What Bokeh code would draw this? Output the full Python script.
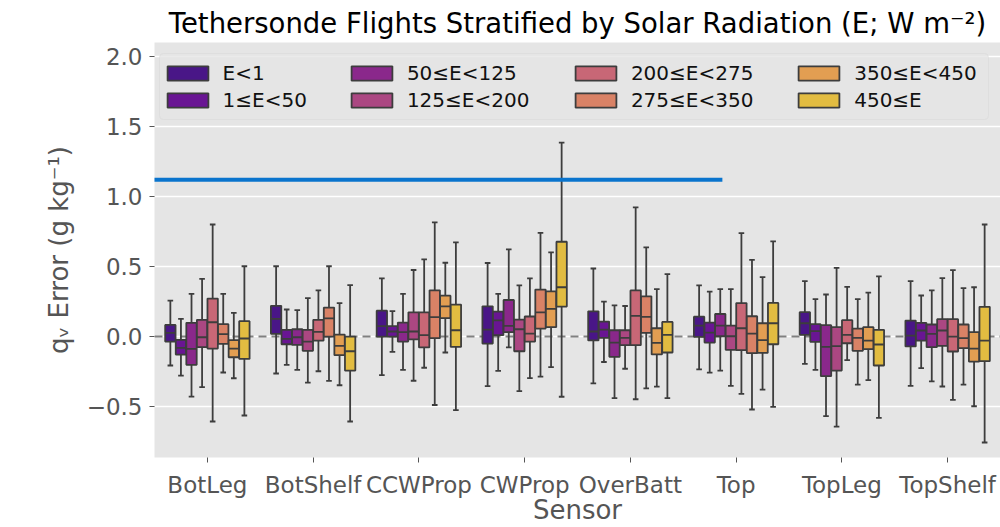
from bokeh.plotting import figure
from bokeh.models import (ColumnDataSource, FactorRange, Legend, LegendItem, BoxAnnotation,
                          Span, FixedTicker, CustomJSTickFormatter)
from bokeh.transform import dodge
from bokeh.embed import file_html
from bokeh.resources import INLINE

# ---------------- data ----------------
SENSORS = ["BotLeg", "BotShelf", "CCWProp", "CWProp", "OverBatt", "Top", "TopLeg", "TopShelf"]
BINS = ["E<1", "1≤E<50", "50≤E<125", "125≤E<200", "200≤E<275", "275≤E<350", "350≤E<450", "450≤E"]
COLORS = ["#491687", "#691593", "#8a288b", "#ab4782", "#c86776", "#d98266", "#e29e52", "#e2bc41"]

# one row per sensor, one column per radiation bin
WHISK_HI = [
    [0.257, 0.126, 0.305, 0.412, 0.800, 0.305, 0.169, 0.502],
    [0.502, 0.193, 0.188, 0.274, 0.329, 0.502, 0.238, 0.367],
    [0.416, 0.181, 0.304, 0.475, 0.551, 0.815, 0.527, 0.672],
    [0.525, 0.304, 0.622, 0.366, 0.416, 0.741, 0.601, 1.385],
    [0.486, 0.249, 0.223, 0.218, 0.922, 0.637, 0.339, 0.445],
    [0.365, 0.320, 0.339, 0.339, 0.739, 0.547, 0.424, 0.679],
    [0.395, 0.267, 0.300, 0.490, 0.355, 0.267, 0.314, 0.429],
    [0.395, 0.293, 0.329, 0.417, 0.474, 0.345, 0.352, 0.800],
]
Q3 = [
    [0.083, -0.024, 0.098, 0.119, 0.271, 0.088, -0.026, 0.110],
    [0.219, 0.048, 0.052, 0.048, 0.119, 0.207, 0.014, 0.000],
    [0.185, 0.074, 0.100, 0.173, 0.173, 0.330, 0.292, 0.228],
    [0.216, 0.178, 0.261, 0.121, 0.143, 0.335, 0.323, 0.677],
    [0.180, 0.107, 0.045, 0.045, 0.329, 0.287, 0.059, 0.104],
    [0.142, 0.100, 0.161, 0.078, 0.239, 0.145, 0.095, 0.240],
    [0.174, 0.088, 0.081, 0.067, 0.117, 0.057, 0.067, 0.048],
    [0.114, 0.098, 0.086, 0.124, 0.124, 0.086, 0.031, 0.212],
]
MEDIAN = [
    [0.026, -0.081, -0.088, -0.005, 0.102, 0.017, -0.086, -0.014],
    [0.126, -0.017, -0.005, -0.036, 0.033, 0.129, -0.067, -0.105],
    [0.074, 0.036, 0.031, 0.036, 0.010, 0.138, 0.216, 0.045],
    [0.050, 0.116, 0.076, 0.052, 0.021, 0.173, 0.197, 0.352],
    [0.036, 0.050, -0.043, -0.009, 0.147, 0.140, -0.045, 0.012],
    [0.078, 0.028, 0.078, 0.002, 0.059, 0.021, -0.026, 0.095],
    [0.095, 0.038, -0.074, -0.069, 0.012, -0.010, -0.029, -0.057],
    [0.007, 0.043, 0.019, 0.043, 0.000, -0.012, -0.086, -0.029],
]
Q1 = [
    [-0.036, -0.129, -0.202, -0.076, -0.086, -0.052, -0.148, -0.160],
    [0.019, -0.055, -0.060, -0.102, -0.029, 0.000, -0.133, -0.243],
    [0.000, 0.000, -0.036, -0.021, -0.078, -0.012, 0.131, -0.074],
    [-0.050, 0.010, 0.031, -0.105, -0.036, 0.057, 0.067, 0.214],
    [-0.028, -0.009, -0.145, -0.062, -0.062, 0.026, -0.128, -0.114],
    [-0.002, -0.043, 0.002, -0.095, -0.097, -0.118, -0.117, -0.055],
    [0.012, -0.038, -0.283, -0.243, -0.048, -0.102, -0.090, -0.207],
    [-0.071, -0.029, -0.076, -0.067, -0.107, -0.083, -0.179, -0.176],
]
WHISK_LO = [
    [-0.207, -0.279, -0.429, -0.362, -0.607, -0.257, -0.298, -0.564],
    [-0.264, -0.202, -0.238, -0.329, -0.248, -0.317, -0.348, -0.607],
    [-0.276, -0.109, -0.238, -0.316, -0.223, -0.489, -0.114, -0.525],
    [-0.354, -0.245, -0.078, -0.390, -0.297, -0.287, -0.219, -0.430],
    [-0.334, -0.182, -0.440, -0.230, -0.448, -0.370, -0.358, -0.440],
    [-0.235, -0.258, -0.244, -0.353, -0.410, -0.521, -0.379, -0.502],
    [-0.195, -0.238, -0.569, -0.643, -0.169, -0.343, -0.312, -0.581],
    [-0.352, -0.226, -0.321, -0.357, -0.452, -0.343, -0.498, -0.757],
]

Y_TICKS = [-0.5, 0.0, 0.5, 1.0, 1.5, 2.0]
Y_RANGE = (-0.864, 2.1)
ZERO_LINE = 0.0
MARK_LINE_Y = 1.12      # horizontal blue marker line
MARK_LINE_X_END = 5.37  # in category units

TITLE = "Tethersonde Flights Stratified by Solar Radiation (E; W m⁻²)"
X_LABEL = "Sensor"
Y_LABEL = "qᵥ Error (g kg⁻¹)"

# ---------------- style ----------------
FONT = "DejaVu Sans"
EDGE = "#3d3d3d"
LW = 1.8
BG = "#E5E5E5"

p = figure(x_range=FactorRange(*SENSORS, range_padding=0), y_range=Y_RANGE,
           width=1000, height=527, output_backend="svg", toolbar_location=None,
           min_border_left=154, min_border_right=0, min_border_top=42, min_border_bottom=70,
           background_fill_color=BG, border_fill_color="white", outline_line_color=None)

p.title.text = TITLE
p.title.text_font = FONT
p.title.text_font_size = "27.5px"
p.title.text_font_style = "normal"
p.title.text_color = "#000000"
p.title.align = "center"
p.title.standoff = 8

p.xgrid.grid_line_color = None
p.ygrid.grid_line_color = "white"
p.ygrid.grid_line_width = 1.4
p.yaxis.ticker = FixedTicker(ticks=Y_TICKS)
p.yaxis.formatter = CustomJSTickFormatter(
    code="return (tick < 0 ? '\u2212' : '') + Math.abs(tick).toFixed(1);")

for ax in (p.xaxis[0], p.yaxis[0]):
    ax.axis_line_color = None
    ax.major_tick_line_color = "#555555"
    ax.major_tick_in = 0
    ax.major_tick_out = 5
    ax.minor_tick_line_color = None
    ax.major_label_text_font = FONT
    ax.major_label_text_font_size = "23px"
    ax.major_label_text_color = "#555555"
    ax.axis_label_text_font = FONT
    ax.axis_label_text_font_size = "26px"
    ax.axis_label_text_font_style = "normal"
    ax.axis_label_text_color = "#555555"

p.xaxis.axis_label = X_LABEL
p.yaxis.axis_label = Y_LABEL
p.xaxis.major_label_standoff = 9
p.xaxis.axis_label_standoff = -6
p.yaxis.major_label_standoff = 7
p.yaxis.axis_label_standoff = 10

p.add_layout(Span(location=ZERO_LINE, dimension="width", line_color="#808080",
                  line_width=2, line_dash="8 5", level="underlay"))

n = len(BINS)
step = 0.8 / n
box_w = step * 0.98
cap_half = box_w * 0.27

box_renderers = []
for j, b in enumerate(BINS):
    off = (j - (n - 1) / 2) * step
    src = ColumnDataSource(dict(
        sensor=SENSORS,
        lo=[row[j] for row in WHISK_LO],
        q1=[row[j] for row in Q1],
        med=[row[j] for row in MEDIAN],
        q3=[row[j] for row in Q3],
        hi=[row[j] for row in WHISK_HI],
    ))
    xc = dodge("sensor", off, range=p.x_range)
    xcl = dodge("sensor", off - cap_half, range=p.x_range)
    xcr = dodge("sensor", off + cap_half, range=p.x_range)
    xbl = dodge("sensor", off - box_w / 2, range=p.x_range)
    xbr = dodge("sensor", off + box_w / 2, range=p.x_range)
    seg = dict(source=src, line_color=EDGE, line_width=LW)
    p.segment(x0=xc, y0="q3", x1=xc, y1="hi", **seg)
    p.segment(x0=xc, y0="q1", x1=xc, y1="lo", **seg)
    p.segment(x0=xcl, y0="hi", x1=xcr, y1="hi", **seg)
    p.segment(x0=xcl, y0="lo", x1=xcr, y1="lo", **seg)
    r = p.vbar(x=xc, width=box_w, top="q3", bottom="q1", source=src,
               fill_color=COLORS[j], line_color=EDGE, line_width=LW)
    p.segment(x0=xbl, y0="med", x1=xbr, y1="med", **seg)
    box_renderers.append(r)

# legend frame
p.add_layout(BoxAnnotation(left=159, right=988, top=53, bottom=119,
                           left_units="canvas", right_units="canvas",
                           top_units="canvas", bottom_units="canvas",
                           fill_color=BG, fill_alpha=0.8, line_color="#cccccc",
                           line_width=1, border_radius=4))

col_x = [7.6, 191.9, 415.9, 639.2]
for c in range(4):
    items = [LegendItem(label=BINS[k], renderers=[box_renderers[k]]) for k in (2 * c, 2 * c + 1)]
    lg = Legend(items=items, location=(col_x[c], 345), orientation="vertical",
                background_fill_alpha=0, border_line_alpha=0, padding=0, margin=0,
                spacing=3, glyph_width=51, glyph_height=18, label_standoff=10,
                label_text_font=FONT, label_text_font_size="20px", label_text_color="#111111")
    p.add_layout(lg)

# blue marker line
p.add_layout(BoxAnnotation(left=0, right=MARK_LINE_X_END,
                           top=MARK_LINE_Y + 0.0143, bottom=MARK_LINE_Y - 0.0143,
                           left_units="canvas", right_units="data",
                           top_units="data", bottom_units="data",
                           fill_color="#0a74cd", fill_alpha=1.0, line_color=None,
                           level="overlay"))

open("out.html", "w").write(file_html(p, INLINE))
